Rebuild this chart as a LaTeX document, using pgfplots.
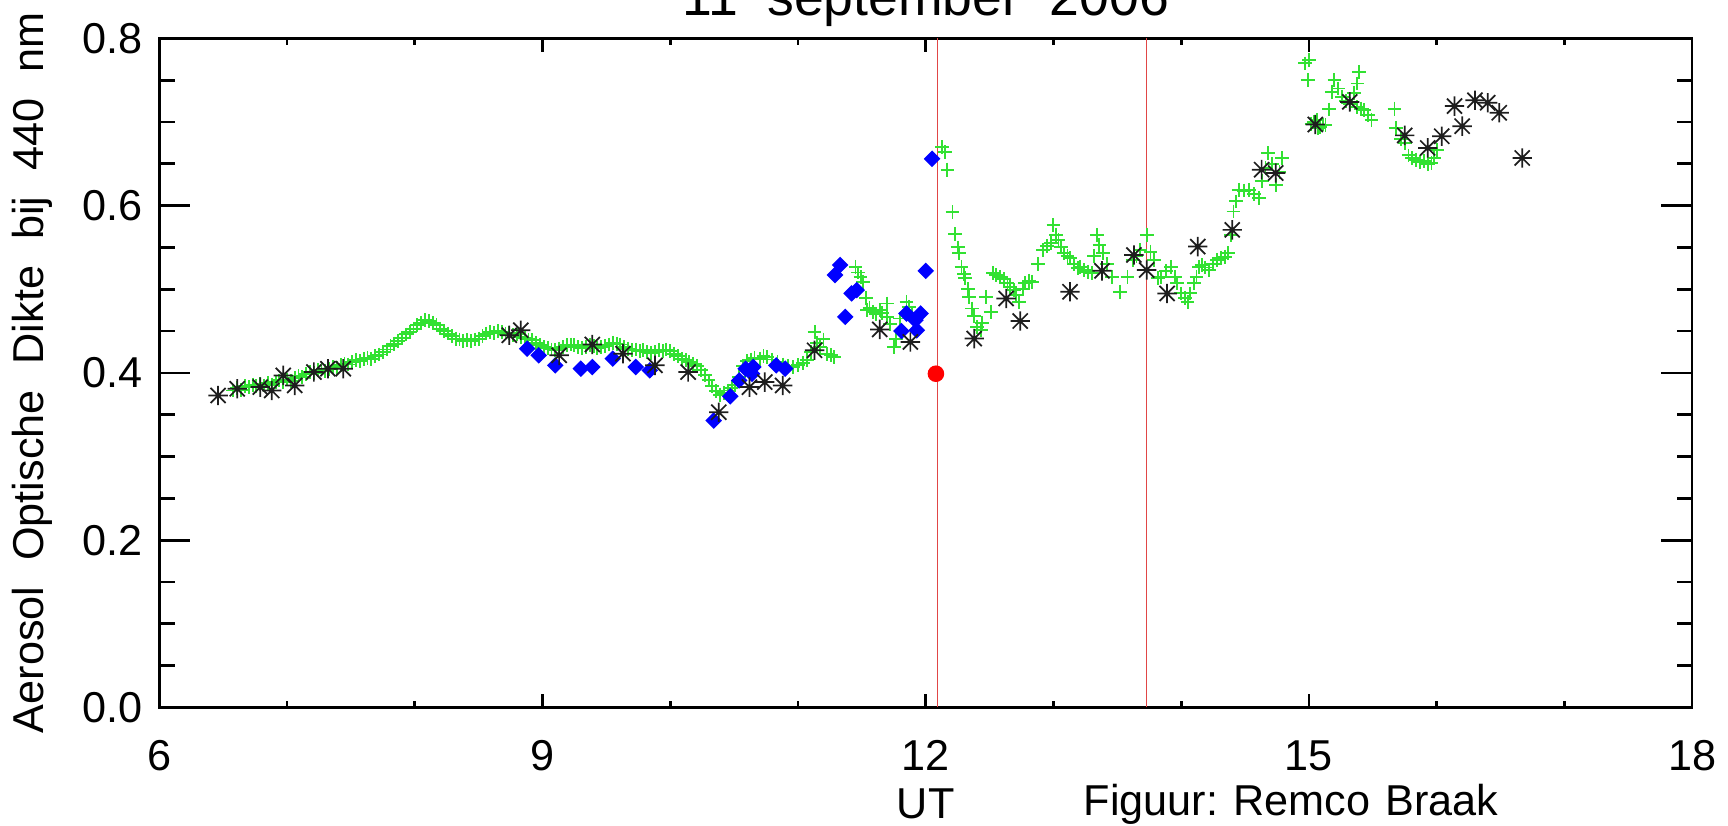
\documentclass[border=0pt]{standalone}
\usepackage{fontspec}
\setmainfont{Liberation Sans}
\usepackage{pgfplots}
\pgfplotsset{compat=1.18}

% eight-armed star, as drawn by the original plot
\pgfdeclareplotmark{star8}{%
  \pgfpathmoveto{\pgfqpoint{-\pgfplotmarksize}{0pt}}%
  \pgfpathlineto{\pgfqpoint{\pgfplotmarksize}{0pt}}%
  \pgfpathmoveto{\pgfqpoint{0pt}{-\pgfplotmarksize}}%
  \pgfpathlineto{\pgfqpoint{0pt}{\pgfplotmarksize}}%
  \pgfpathmoveto{\pgfqpoint{-.78\pgfplotmarksize}{-.78\pgfplotmarksize}}%
  \pgfpathlineto{\pgfqpoint{.78\pgfplotmarksize}{.78\pgfplotmarksize}}%
  \pgfpathmoveto{\pgfqpoint{-.78\pgfplotmarksize}{.78\pgfplotmarksize}}%
  \pgfpathlineto{\pgfqpoint{.78\pgfplotmarksize}{-.78\pgfplotmarksize}}%
  \pgfusepathqstroke}

% aerosol optical depth at 440 nm, 11 Sept 2006
\pgfplotstableread{
t v
6.58 0.379
6.61 0.382
6.64 0.380
6.67 0.384
6.70 0.383
6.73 0.386
6.76 0.384
6.79 0.387
6.82 0.385
6.85 0.388
6.88 0.386
6.91 0.389
6.94 0.391
6.97 0.389
7.00 0.392
7.03 0.390
7.06 0.394
7.09 0.396
7.12 0.395
7.15 0.399
7.18 0.401
7.21 0.400
7.24 0.403
7.27 0.404
7.30 0.402
7.33 0.405
7.36 0.407
7.39 0.406
7.42 0.409
7.45 0.411
7.48 0.410
7.51 0.413
7.54 0.415
7.57 0.414
7.60 0.417
7.63 0.418
7.66 0.417
7.69 0.420
7.72 0.422
7.75 0.425
7.78 0.428
7.81 0.432
7.84 0.435
7.87 0.438
7.90 0.442
7.93 0.446
7.96 0.449
7.99 0.453
8.02 0.457
8.05 0.460
8.08 0.463
8.11 0.462
8.14 0.460
8.17 0.457
8.20 0.453
8.23 0.450
8.26 0.447
8.29 0.444
8.32 0.441
8.35 0.440
8.38 0.438
8.41 0.439
8.44 0.438
8.47 0.440
8.50 0.441
8.53 0.444
8.56 0.447
8.59 0.449
8.62 0.448
8.65 0.450
8.68 0.449
8.71 0.447
8.74 0.448
8.77 0.445
8.80 0.446
8.83 0.443
8.86 0.442
8.89 0.440
8.92 0.439
8.95 0.436
8.98 0.433
9.01 0.431
9.04 0.430
9.07 0.428
9.10 0.427
9.13 0.429
9.16 0.431
9.19 0.433
9.22 0.434
9.25 0.433
9.28 0.431
9.31 0.430
9.34 0.431
9.37 0.433
9.40 0.432
9.43 0.430
9.46 0.431
9.49 0.432
9.52 0.434
9.55 0.436
9.58 0.435
9.61 0.434
9.64 0.431
9.67 0.429
9.70 0.427
9.73 0.428
9.76 0.426
9.79 0.427
9.82 0.425
9.85 0.424
9.88 0.425
9.91 0.427
9.94 0.426
9.97 0.428
10.00 0.426
10.03 0.423
10.06 0.420
10.09 0.417
10.12 0.415
10.15 0.413
10.18 0.411
10.21 0.408
10.24 0.403
10.27 0.397
10.30 0.391
10.33 0.384
10.36 0.378
10.39 0.374
10.42 0.376
10.45 0.379
10.48 0.382
10.51 0.386
10.54 0.395
10.57 0.408
10.60 0.414
10.63 0.416
10.66 0.418
10.70 0.417
10.73 0.420
10.76 0.419
10.80 0.416
10.84 0.413
10.88 0.410
10.92 0.408
10.96 0.407
11.00 0.409
11.04 0.412
11.07 0.415
11.10 0.425
11.13 0.449
11.15 0.436
11.17 0.431
11.20 0.440
11.23 0.423
11.26 0.421
11.28 0.419
11.45 0.527
11.47 0.520
11.49 0.515
11.51 0.509
11.53 0.490
11.54 0.475
11.56 0.478
11.59 0.473
11.61 0.470
11.64 0.475
11.66 0.472
11.70 0.483
11.70 0.467
11.72 0.458
11.75 0.431
11.77 0.440
11.80 0.465
11.85 0.485
11.87 0.479
11.89 0.470
12.13 0.670
12.15 0.664
12.17 0.643
12.21 0.592
12.23 0.566
12.25 0.550
12.26 0.543
12.28 0.527
12.30 0.518
12.31 0.513
12.33 0.500
12.34 0.491
12.36 0.477
12.38 0.468
12.40 0.455
12.43 0.451
12.44 0.460
12.47 0.491
12.51 0.473
12.53 0.519
12.55 0.517
12.58 0.515
12.61 0.512
12.64 0.507
12.66 0.503
12.69 0.499
12.71 0.493
12.73 0.485
12.76 0.500
12.78 0.507
12.81 0.510
12.83 0.509
12.88 0.530
12.92 0.547
12.95 0.552
12.98 0.555
13.00 0.577
13.02 0.565
13.04 0.559
13.06 0.550
13.08 0.543
13.11 0.540
13.13 0.537
13.16 0.530
13.19 0.525
13.21 0.527
13.24 0.523
13.27 0.521
13.30 0.519
13.32 0.540
13.34 0.565
13.36 0.553
13.39 0.543
13.42 0.530
13.46 0.515
13.52 0.497
13.58 0.515
13.62 0.535
13.65 0.540
13.68 0.547
13.73 0.565
13.76 0.545
13.79 0.535
13.82 0.513
13.84 0.515
13.88 0.522
13.92 0.527
13.95 0.515
13.97 0.507
14.00 0.495
14.03 0.490
14.05 0.485
14.07 0.495
14.10 0.507
14.12 0.515
14.14 0.527
14.16 0.529
14.19 0.526
14.22 0.523
14.25 0.530
14.28 0.535
14.31 0.537
14.34 0.539
14.37 0.543
14.39 0.565
14.41 0.593
14.43 0.605
14.45 0.619
14.49 0.618
14.53 0.619
14.57 0.614
14.61 0.609
14.63 0.629
14.66 0.645
14.68 0.663
14.71 0.650
14.74 0.625
14.77 0.640
14.79 0.657
14.97 0.770
14.99 0.750
15.00 0.774
15.02 0.698
15.04 0.700
15.06 0.702
15.07 0.693
15.09 0.694
15.11 0.697
15.13 0.696
15.16 0.715
15.18 0.736
15.20 0.750
15.23 0.740
15.26 0.730
15.29 0.725
15.32 0.722
15.35 0.735
15.38 0.746
15.39 0.760
15.38 0.718
15.41 0.716
15.43 0.714
15.46 0.708
15.49 0.702
15.67 0.716
15.68 0.693
15.72 0.680
15.75 0.675
15.78 0.660
15.81 0.657
15.84 0.655
15.87 0.652
15.90 0.653
15.93 0.650
15.96 0.651
15.98 0.657
16.00 0.667
}\plusdata

\pgfplotstableread{
t v
6.46 0.373
6.61 0.381
6.79 0.383
6.88 0.379
6.97 0.397
7.06 0.385
7.21 0.401
7.32 0.405
7.44 0.405
8.74 0.445
8.83 0.451
9.13 0.421
9.39 0.434
9.63 0.423
9.88 0.409
10.14 0.401
10.38 0.353
10.62 0.383
10.74 0.389
10.88 0.385
11.13 0.427
11.64 0.452
11.88 0.437
12.38 0.441
12.63 0.489
12.74 0.462
13.13 0.497
13.38 0.522
13.63 0.541
13.73 0.523
13.89 0.495
14.13 0.551
14.40 0.571
14.63 0.643
14.74 0.639
15.05 0.697
15.32 0.724
15.75 0.684
15.93 0.669
16.04 0.683
16.14 0.719
16.20 0.695
16.30 0.726
16.40 0.723
16.49 0.711
16.67 0.657
}\stardata

\pgfplotstableread{
t v
8.88 0.429
8.97 0.421
9.10 0.409
9.30 0.405
9.39 0.407
9.55 0.417
9.73 0.407
9.84 0.403
10.34 0.343
10.47 0.372
10.54 0.391
10.59 0.405
10.64 0.399
10.65 0.407
10.83 0.409
10.90 0.405
11.29 0.517
11.33 0.529
11.37 0.467
11.42 0.495
11.46 0.499
11.81 0.450
11.85 0.471
11.92 0.463
11.96 0.471
11.93 0.451
12.00 0.522
12.05 0.656
}\diamdata

\definecolor{plusgreen}{RGB}{50,225,50}
\definecolor{linered}{RGB}{225,70,70}
\definecolor{stargray}{RGB}{30,30,30}

\begin{document}
\fontsize{12.5}{15}\selectfont
\begin{tikzpicture}
\begin{axis}[
  scale only axis,
  width=443.5pt, height=193.6pt,
  xmin=6, xmax=18, ymin=0, ymax=0.8,
  xtick={6,9,12,15,18},
  xticklabels={6,9,12,15,18},
  ytick={0,0.2,0.4,0.6,0.8},
  yticklabels={0.0,0.2,0.4,0.6,0.8},
  minor x tick num=2,
  minor y tick num=3,
  tick align=inside,
  major tick length=9pt,
  minor tick length=4.5pt,
  xtick style={/pgfplots/major tick length=3.9pt, /pgfplots/minor tick length=2pt},
  every tick/.style={black, line width=0.8pt},
  axis line style={line width=0.8pt},
  xticklabel style={anchor=base, yshift=-18.2pt},
  yticklabel style={anchor=east, inner sep=0pt, xshift=-4.7pt},
  clip=false,
]
\coordinate (sw) at (rel axis cs:0,0);
\coordinate (ne) at (rel axis cs:1,1);

\addplot[linered, line width=0.4pt] coordinates {(12.09,0) (12.09,0.8)};
\addplot[linered, line width=0.4pt] coordinates {(13.73,0) (13.73,0.8)};

\addplot[only marks, mark=+, mark size=2pt, plusgreen,
  mark options={line width=0.55pt}] table[x=t, y=v] {\plusdata};
\addplot[only marks, mark=square*, mark size=1.5pt, blue,
  mark options={rotate=45}] table[x=t, y=v] {\diamdata};
\addplot[only marks, mark=star8, mark size=2.8pt, stargray,
  mark options={line width=0.5pt}] table[x=t, y=v] {\stardata};
\addplot[only marks, mark=*, mark size=2.2pt, red] coordinates {(12.08,0.399)};

\node[anchor=base, font=\fontsize{15.5}{18}\selectfont]
  at ([yshift=6.6pt]rel axis cs:0.5,1) {11\hspace{0.55em}september\hspace{0.55em}2006};
\node[anchor=base] at ([yshift=-32.2pt]axis cs:12,0) {UT};
\node[anchor=base] at ([yshift=-31.3pt]axis cs:14.86,0) {Figuur:\hspace{0.35em}Remco\hspace{0.35em}Braak};
\node[anchor=base, rotate=90] at ([xshift=-33.6pt]rel axis cs:0,0.5)
  {Aerosol\hspace{0.6em}Optische\hspace{0.6em}Dikte\hspace{0.6em}bij\hspace{0.6em}440\hspace{0.6em}nm};
\end{axis}
\pgfresetboundingbox
\path[use as bounding box] ([xshift=-46.1pt, yshift=-34.1pt]sw) rectangle ([xshift=10.4pt, yshift=11.1pt]ne);
\end{tikzpicture}
\end{document}
